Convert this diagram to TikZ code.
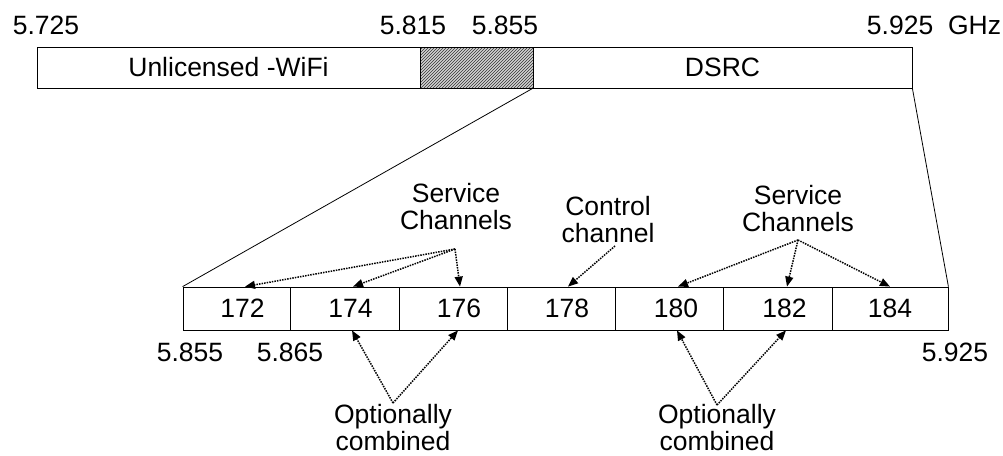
\documentclass[tikz,border=0pt]{standalone}
\usepackage{fontspec}
\setmainfont{Liberation Sans}
\usetikzlibrary{arrows.meta,patterns,calc}
\begin{document}
\begin{tikzpicture}[x=1pt,y=-1pt,
  every node/.style={font=\fontsize{26.5}{27}\selectfont},
  band/.style={draw, line width=0.8pt, minimum height=41pt, inner sep=0pt},
  chan/.style={draw, line width=0.8pt, minimum height=43pt, inner sep=0pt},
  lbl/.style={inner sep=0pt, anchor=base, align=center},
  ptr/.style={line width=1.5pt, dash pattern=on 1.5pt off 1.1pt, -{Triangle[length=10pt,width=8pt]}},
  zoomline/.style={line width=0.8pt}]
\useasboundingbox (0,0) rectangle (1003,455);
% top band
\node[band, minimum width=383pt] (wifi) at (228.5,67.5) {Unlicensed -WiFi};
\fill[gray!35] (420,47) rectangle (533,88);
\node[band, minimum width=113pt, pattern=north east lines, pattern color=black!80] (gap) at (476.5,67.5) {};
\node[band, minimum width=379pt] (dsrc) at (722.5,67.5) {DSRC};
% top frequency labels
\node[lbl] (f1) at (46,34) {5.725};
\node[lbl] (f2) at (413,34) {5.815};
\node[lbl] (f3) at (505,34) {5.855};
\node[lbl] (f4) at (934,34) {5.925~~GHz};
% channels
\node[chan, minimum width=107pt] (c172) at (236.5,308.5) {\hspace*{12pt}172};
\node[chan, minimum width=109pt] (c174) at (344.5,308.5) {\hspace*{12pt}174};
\node[chan, minimum width=108pt] (c176) at (453,308.5) {\hspace*{12pt}176};
\node[chan, minimum width=108pt] (c178) at (561,308.5) {\hspace*{12pt}178};
\node[chan, minimum width=108pt] (c180) at (669,308.5) {\hspace*{14pt}180};
\node[chan, minimum width=109pt] (c182) at (777.5,308.5) {\hspace*{14pt}182};
\node[chan, minimum width=116pt] (c184) at (890,308.5) {184};
% zoom lines
\draw[zoomline] (dsrc.south west) -- (c172.north west);
\draw[zoomline] (dsrc.south east) -- (c184.north east);
% bottom frequency labels
\node[lbl] (b1) at (190,361) {5.855};
\node[lbl] (b2) at (290,361) {5.865};
\node[lbl] (b3) at (955,361) {5.925};
% annotations
\node[lbl] (scl) at (456,229) {Service\\Channels};
\node[lbl] (cc) at (608,242) {Control\\channel};
\node[lbl] (scr) at (798,231) {Service\\Channels};
\node[lbl] (ocl) at (393,450) {Optionally\\combined};
\node[lbl] (ocr) at (717,450) {Optionally\\combined};
\coordinate (sclo) at (455,249);
\coordinate (cco) at (615,246);
\coordinate (scro) at (798,240);
\coordinate (oclo) at (393,403);
\coordinate (ocro) at (717,405);
\draw[ptr] (sclo) -- ($(c172.north)+(8.5,0)$);
\draw[ptr] (sclo) -- ($(c174.north)+(8.5,0)$);
\draw[ptr] (sclo) -- ($(c176.north)+(7,0)$);
\draw[ptr] (cco) -- ($(c178.north)+(7,0)$);
\draw[ptr] (scro) -- ($(c180.north)+(9,0)$);
\draw[ptr] (scro) -- ($(c182.north)+(9.5,0)$);
\draw[ptr] (scro) -- (c184.north);
\draw[ptr] (oclo) -- ($(c174.south)+(7.5,0)$);
\draw[ptr] (oclo) -- ($(c176.south)+(5,0)$);
\draw[ptr] (ocro) -- ($(c180.south)+(8,0)$);
\draw[ptr] (ocro) -- ($(c182.south)+(8.5,0)$);
\end{tikzpicture}
\end{document}
